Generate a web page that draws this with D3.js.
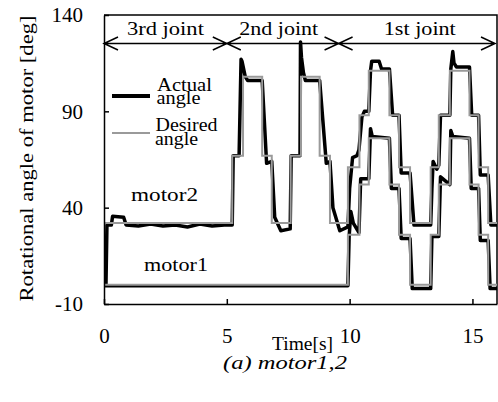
<!DOCTYPE html>
<html lang="en">
<head>
<meta charset="UTF-8">
<title>motor1,2</title>
<style>
  body { margin: 0; background: #fff; }
  svg { display: block; }
  svg text { font-family: "Liberation Serif", "Times New Roman", serif; fill: #000; }
  .axis path, .axis line { stroke: #000; stroke-width: 1.5; }
  .axis text { font-size: 21px; }
</style>
</head>
<body>
<svg id="chart" width="498" height="402"></svg>
<script src="https://d3js.org/d3.v7.min.js"></script>
<script>
// step breakpoints of the desired angles
const desiredTime = [0, 5.22, 5.66, 6.44, 6.83, 7.6, 8.02, 8.78, 9.2, 9.93, 10.4, 10.78, 11.62, 12.01, 12.46, 13.3, 13.63, 14.08, 14.88, 15.25, 15.64, 16];
const motor2Desired = [32, 67, 108, 67, 32, 67, 108, 67, 32, 61, 88, 111, 88, 61, 32, 61, 88, 111, 88, 61, 32, 32];
const motor1Desired = [0, 0, 0, 0, 0, 0, 0, 0, 0, 26, 52, 76, 52, 26, 0, 26, 52, 76, 52, 26, 0, 0];

// measured angles
const motor2ActualTime = [0, 0.08, 0.12, 0.3, 0.35, 0.8, 0.9, 1.4, 1.9, 2.4, 2.9, 3.4, 3.9, 4.4, 4.9, 5.22,
  5.26, 5.5, 5.58, 5.62, 5.75, 5.85, 6.44, 6.62, 6.83, 6.95, 7.2, 7.58,
  7.62, 7.98, 8.0, 8.04, 8.12, 8.2, 8.78, 9.05, 9.2, 9.32, 9.6, 9.93,
  10.0, 10.12, 10.3, 10.38, 10.5, 10.6, 10.78, 10.85, 10.9, 11.2, 11.3, 11.62, 11.75, 12.01, 12.1, 12.46, 12.62,
  13.3, 13.35, 13.4, 13.55, 13.63, 13.7, 14.08, 14.12, 14.2, 14.25, 14.35, 14.88, 14.97, 15.25, 15.32, 15.64, 15.75, 16];
const motor2Actual = [0, 0, 31, 31, 35.5, 35, 31, 30.5, 31.5, 30.5, 31, 30, 31.5, 30.5, 31, 31,
  67, 67, 117, 116, 108, 106, 106, 63, 64, 35, 28, 29,
  67, 67, 126, 118, 110, 106, 106, 63, 64, 40, 28, 30,
  50, 66, 67, 70, 87, 90, 90, 111, 116, 116, 112, 112, 88, 88, 58, 58, 31,
  31, 50, 64, 60, 62, 88, 88, 112, 121, 115, 113, 113, 88, 88, 57, 57, 31, 31];

const motor1ActualTime = [0, 9.93, 9.98, 10.05, 10.15, 10.38, 10.45, 10.78, 10.85, 10.92, 11.62, 11.7, 12.01, 12.1, 12.46, 12.55,
  13.3, 13.35, 13.63, 13.7, 14.08, 14.12, 14.2, 14.88, 14.95, 15.25, 15.32, 15.64, 15.72, 16];
const motor1Actual = [-0.5, -0.5, 25, 38, 32, 27, 55, 55, 81, 77, 76, 50, 50, 24, 24, -2,
  -2, 25, 25, 56, 52, 80, 77, 76, 50, 50, 23, 23, -2, -2];

const xTicks = [0, 5, 10, 15];
const yTicks = [-10, 40, 90, 140];

// joint phases (start, end, label)
const jointStart = [0, 5, 9.55];
const jointEnd = [5, 9.55, 16];
const jointLabel = ["3rd joint", "2nd joint", "1st joint"];

const svg = d3.select("#chart");
const mLeft = 104, mRight = 497, mTop = 15, mBottom = 304;

const x = d3.scaleLinear().domain([0, 16]).range([mLeft, mRight]);
const y = d3.scaleLinear().domain([-10, 140]).range([mBottom, mTop]);

const pts = (ts, vs) => ts.map((t, i) => [t, vs[i]]);
const stepLine = d3.line().x(d => x(d[0])).y(d => y(d[1])).curve(d3.curveStepAfter);
const rawLine = d3.line().x(d => x(d[0])).y(d => y(d[1]));

// the original lettering is a little wider than Liberation Serif, so stretch to measured widths
function label(str, px, py, w, anchor) {
    return svg.append("text")
        .attr("x", px).attr("y", py)
        .attr("font-size", 19)
        .attr("text-anchor", anchor || "start")
        .attr("textLength", w).attr("lengthAdjust", "spacingAndGlyphs")
        .text(str);
}
// two stacked lines in one text element
function label2(lines) {
    const t = svg.append("text").attr("font-size", 19);
    lines.forEach(l => {
        t.append("tspan").attr("x", l[1]).attr("y", l[2])
            .attr("textLength", l[3]).attr("lengthAdjust", "spacingAndGlyphs")
            .text(l[0]);
    });
    return t;
}

// frame (top and right)
svg.append("path")
    .attr("d", `M${mLeft},${mTop}H${mRight}V${mBottom}`)
    .attr("fill", "none").attr("stroke", "#000").attr("stroke-width", 1.5);

// actual (thick black) under desired (grey)
[pts(motor2ActualTime, motor2Actual), pts(motor1ActualTime, motor1Actual)].forEach(d => {
    svg.append("path").attr("d", rawLine(d))
        .attr("fill", "none").attr("stroke", "#000")
        .attr("stroke-width", 3.5).attr("stroke-linejoin", "round");
});
[pts(desiredTime, motor2Desired), pts(desiredTime, motor1Desired)].forEach(d => {
    svg.append("path").attr("d", stepLine(d))
        .attr("fill", "none").attr("stroke", "#9a9a9a")
        .attr("stroke-width", 2);
});

// axes (plain hyphen for the minus sign, as in the original)
const fmt = d => String(d);
svg.append("g").attr("class", "axis")
    .attr("transform", `translate(0,${mBottom})`)
    .call(d3.axisBottom(x).tickValues(xTicks).tickSize(-5).tickSizeOuter(0).tickPadding(24).tickFormat(fmt));
svg.append("g").attr("class", "axis")
    .attr("transform", `translate(${mLeft},0)`)
    .call(d3.axisLeft(y).tickValues(yTicks).tickSize(-5).tickSizeOuter(0).tickPadding(21).tickFormat(fmt));

// joint arrows
const ay = 43.5;
const jointWidth = [77, 79, 72];
const jointShift = [0, -4, 3];
jointStart.forEach((s, i) => {
    const x0 = x(s), x1 = Math.min(x(jointEnd[i]), mRight - 2);
    svg.append("path")
        .attr("d", `M${x0},${ay}H${x1}M${x0 + 14},${ay - 6.5}L${x0},${ay}L${x0 + 14},${ay + 6.5}` +
                   `M${x1 - 14},${ay - 6.5}L${x1},${ay}L${x1 - 14},${ay + 6.5}`)
        .attr("fill", "none").attr("stroke", "#000").attr("stroke-width", 1.5);
    label(jointLabel[i], (x0 + x1) / 2 + jointShift[i], 35, jointWidth[i], "middle");
});

// legend
svg.append("line").attr("x1", 112).attr("x2", 150).attr("y1", 96).attr("y2", 96)
    .attr("stroke", "#000").attr("stroke-width", 4);
svg.append("line").attr("x1", 112).attr("x2", 150).attr("y1", 133).attr("y2", 133)
    .attr("stroke", "#9a9a9a").attr("stroke-width", 2);
label2([["Actual", 157, 90.5, 55], ["angle", 156.5, 104, 44]]);
label2([["Desired", 155.5, 131, 62], ["angle", 155, 144.5, 43]]);

label("motor2", 131, 200.5, 67);
label("motor1", 144, 270.5, 64);

// axis titles
label("Time[s]", 272, 350, 61);
svg.append("text").attr("transform", "translate(33,158.5) rotate(-90)")
    .attr("text-anchor", "middle").attr("font-size", 19)
    .attr("textLength", 286).attr("lengthAdjust", "spacingAndGlyphs")
    .text("Rotational angle of motor [deg]");
label("(a) motor1,2", 223, 369, 124).attr("font-style", "italic");
</script>
</body>
</html>
